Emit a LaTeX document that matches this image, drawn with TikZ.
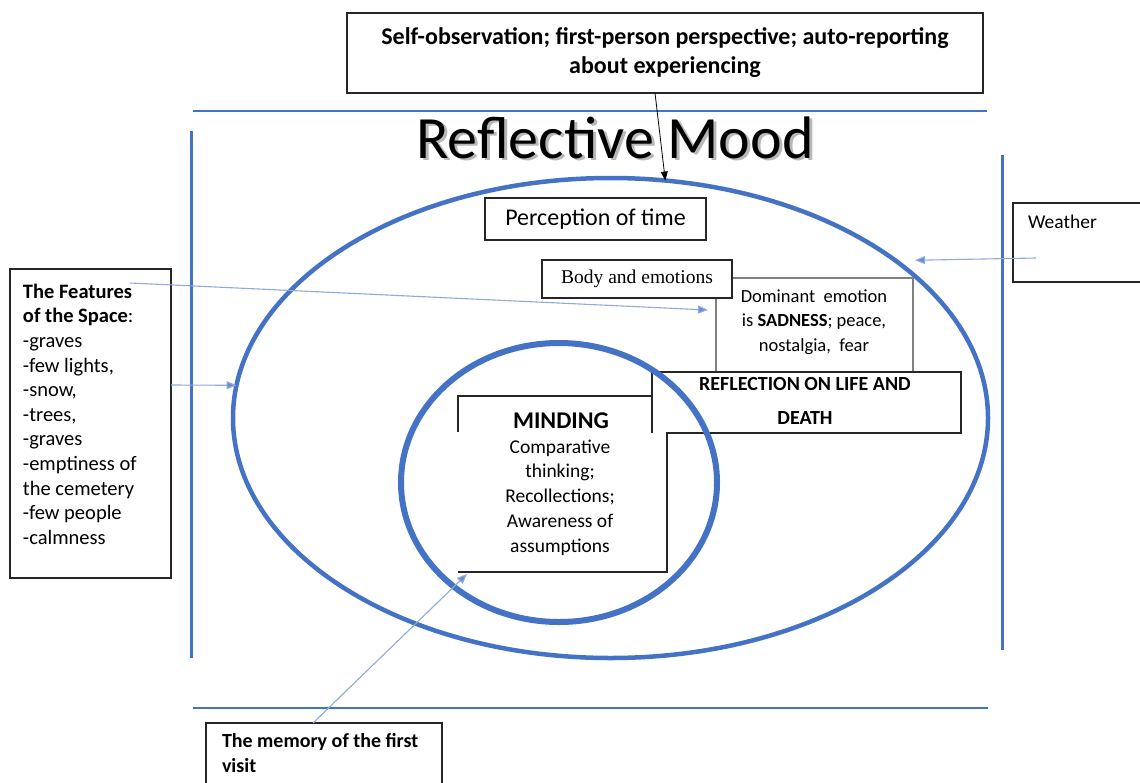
\documentclass[tikz,border=0pt]{standalone}
\usepackage{fontspec}
\setmainfont{Carlito}
\newfontfamily\timesfont{Liberation Serif}
\usetikzlibrary{arrows.meta,shapes.geometric,calc}
\definecolor{fblue}{HTML}{4472C4}
\definecolor{ablue}{HTML}{8FAADC}
\definecolor{bordergray}{HTML}{262626}
\begin{document}
\begin{tikzpicture}[x=1pt,y=-1pt,
  box/.style={draw=bordergray, line width=1.4pt, fill=white, inner sep=0pt, outer sep=0pt, align=center},
  boxline/.style={draw=bordergray, line width=1.4pt},
  hframe/.style={draw=fblue, line width=2pt},
  vframe/.style={draw=fblue, line width=3pt},
  lblarrow/.style={draw=ablue, line width=1.1pt, -{Triangle[length=10pt,width=8pt,fill=fblue!80]}},
  blkarrow/.style={draw=black, line width=0.8pt, -{Triangle[length=9pt,width=7pt]}},
  txt/.style={inner sep=0pt, outer sep=0pt, align=center},
  ring/.style={ellipse, draw=fblue, inner sep=0pt, outer sep=0pt},
]
\useasboundingbox (0,0) rectangle (1140,782);
\fill[white] (0,0) rectangle (1140,782);

% frame lines
\draw[hframe] (193,111) -- (987,111);
\draw[hframe] (193,708) -- (988,708);
\draw[vframe] (191,131) -- (191,658);
\draw[vframe] (1002,155) -- (1002,650);

% title with soft shadow (single node)
\node[txt, anchor=base] (title) at (615,158)
  {\fontsize{60}{60}\selectfont\makebox[0pt][l]{\kern3pt\raisebox{-2.5pt}{\color{black!28}Reflective Mood}}Reflective Mood};

% top box
\node[box, minimum width=636, minimum height=80, font=\bfseries\fontsize{24}{29}\selectfont] (top) at (665,53)
  {Self-observation; first-person perspective; auto-reporting\\about experiencing};

% outer ellipse
\node[ring, line width=4.5pt, minimum width=755, minimum height=480] (outer) at (610.5,418) {};
\draw[blkarrow] ([xshift=-10pt]top.south) -- (outer.77);

% perception of time
\node[box, minimum width=221, minimum height=42, font=\fontsize{24}{24}\selectfont] (perc) at (595.5,219) {Perception of time};

% dominant emotion box
\node[draw=gray, line width=1.4pt, fill=white, minimum width=197, minimum height=94, inner sep=0pt, outer sep=0pt] (dom) at (814.5,325) {};
\node[txt, font=\fontsize{18.5}{24.3}\selectfont] (domtext) at (814,322)
  {Dominant\ \ emotion\\is \textbf{SADNESS}; peace,\\nostalgia,\ \ fear};

% body and emotions
\node[box, minimum width=190, minimum height=38, font=\timesfont\fontsize{19.5}{20}\selectfont] (body) at (637,279) {Body and emotions};

% MINDING and REFLECTION boxes
\node[fill=white, minimum width=209, minimum height=176, inner sep=0pt, outer sep=0pt] (mind) at (562.5,484) {};
\node[fill=white, minimum width=309, minimum height=61, inner sep=0pt, outer sep=0pt] (refl) at (806.5,402.5) {};
\draw[boxline] (458,432) -- (458,396) -- (652,396);
\draw[boxline] (652,433) -- (652,372) -- (961,372) -- (961,433) -- (667,433) -- (667,572) -- (458,572);
\node[txt, font=\bfseries\fontsize{20}{34}\selectfont] (refltext) at (805,401) {REFLECTION ON LIFE AND\\DEATH};
\node[txt, font=\bfseries\fontsize{24}{24}\selectfont] (mindhead) at (561,421) {MINDING};
\node[txt, font=\fontsize{19.5}{24.7}\selectfont] (mindbody) at (560,497.5)
  {Comparative\\thinking;\\Recollections;\\Awareness of\\assumptions};

% inner circle
\node[ring, line width=6pt, minimum width=316, minimum height=279] (inner) at (559,482.5) {};

% features box
\node[box, minimum width=161, minimum height=309, anchor=north west] (feat) at (10,269) {};
\node[txt, anchor=north west, align=left, font=\fontsize{20.5}{24.6}\selectfont] (feattext) at (23,284)
  {\textbf{The Features}\\\textbf{of the Space}:\\-graves\\-few lights,\\-snow,\\-trees,\\-graves\\-emptiness of\\the cemetery\\-few people\\-calmness};

% weather box
\node[box, minimum width=140, minimum height=79, anchor=north west] (weather) at (1013,203) {};
\node[txt, anchor=west, font=\fontsize{19.5}{20}\selectfont] (wtext) at (1028,222) {Weather};

% memory box
\node[box, minimum width=236, minimum height=80, anchor=north west] (mem) at (206,723) {};
\node[txt, anchor=north west, align=left, font=\bfseries\fontsize{20}{25}\selectfont] (memtext) at (222,733.5)
  {The memory of the first\\visit};

% light blue arrows
\draw[lblarrow] ([xshift=23pt,yshift=-15.5pt]weather.west) -- ([xshift=20pt]outer.29.6);
\draw[lblarrow] ([xshift=120pt,yshift=-14pt]feat.north west) -- ([xshift=-8pt,yshift=15pt]dom.west);
\draw[lblarrow] ([yshift=38.5pt]feat.east) -- (outer.175.7);
\draw[lblarrow] ([xshift=107pt]mem.north west) -- ([xshift=9pt,yshift=-2pt]mind.south west);
\end{tikzpicture}
\end{document}
